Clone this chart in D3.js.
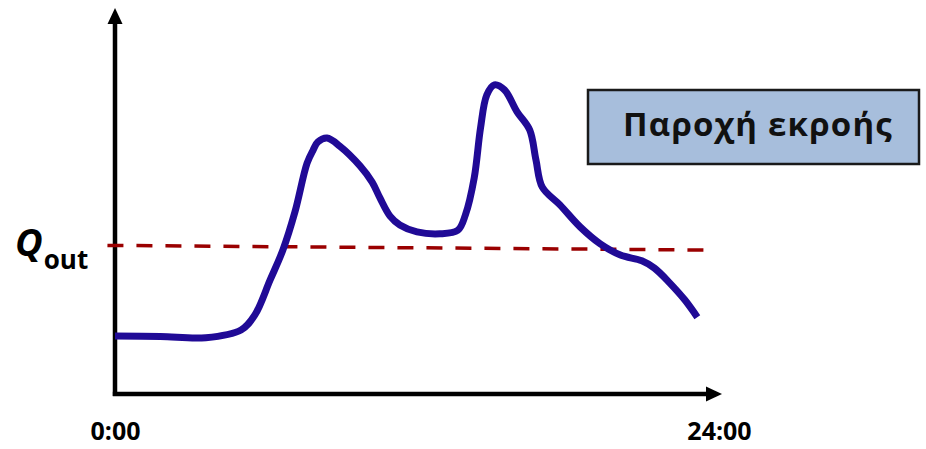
<!DOCTYPE html>
<html>
<head>
<meta charset="utf-8">
<script src="https://cdn.jsdelivr.net/npm/d3@7"></script>
<style>
  html, body { margin: 0; padding: 0; background: #fff; }
  svg { display: block; }
</style>
</head>
<body>
<svg id="chart" width="926" height="449"></svg>
<script>
// ---- data ----
const hours = [0, 1.8, 3.6, 5.0, 5.55, 6.15, 6.66, 7.14, 7.62, 7.86, 8.05, 8.41, 8.92, 9.72, 10.2, 10.51, 10.91, 11.3, 11.98, 12.89, 13.6, 13.9, 14.25, 14.5, 14.75, 15.05, 15.45, 15.95, 16.45, 16.7, 16.95, 17.65, 18.45, 19.25, 20.05, 20.9, 21.4, 22.0, 22.6, 23.1];
const inflow = [15.0, 14.9, 14.6, 16.6, 20.5, 29.5, 37.3, 47.2, 59.8, 63.2, 65.3, 66.3, 64.2, 59.1, 54.9, 50.8, 46.1, 43.8, 42.0, 41.5, 42.4, 46.4, 56.0, 68.9, 77.5, 80.1, 78.8, 73.1, 68.4, 60.6, 53.6, 49.0, 43.3, 38.9, 36.0, 34.5, 32.6, 28.8, 24.4, 19.9];
const qOutHours = [-0.3, 23.4];
const qOutLevel = [38.5, 37.3];
const tickValues = [0, 24];
const tickLabels = ["0:00", "24:00"];
const legendLabel = "Παροχή εκροής";

// ---- layout ----
const svg = d3.select("#chart");
const x0 = 115, y0 = 394;
const x = d3.scaleLinear().domain([0, 24]).range([x0, 720]);
const y = d3.scaleLinear().domain([0, 100]).range([y0, 8]);

// axes lines with arrows
svg.append("line").attr("x1", x0).attr("y1", y0 + 2).attr("x2", x0).attr("y2", 22)
  .attr("stroke", "#000").attr("stroke-width", 4.5);
svg.append("path").attr("d", `M${x0},8 L${x0 - 7.5},24 L${x0 + 7.5},24 Z`).attr("fill", "#000");
svg.append("line").attr("x1", x0 - 2.2).attr("y1", y0).attr("x2", 708).attr("y2", y0)
  .attr("stroke", "#000").attr("stroke-width", 4.5);
svg.append("path").attr("d", `M722,${y0} L706,${y0 - 7.5} L706,${y0 + 7.5} Z`).attr("fill", "#000");

// x tick labels via axis
const xAxis = d3.axisBottom(x).tickValues(tickValues).tickSize(0)
  .tickFormat((d, i) => tickLabels[i]);
const gx = svg.append("g").attr("transform", `translate(0,${y0})`).call(xAxis);
gx.select(".domain").remove();
gx.selectAll("text")
  .attr("y", 46).attr("dy", 0)
  .attr("font-family", "'Open Sans', sans-serif")
  .attr("font-weight", "bold").attr("font-size", 25).attr("fill", "#000");
gx.selectAll(".tick").filter((d) => d === 24).select("text").attr("x", -1);

// Qout dashed line
const qLine = d3.line().x(d => x(d[0])).y(d => y(d[1]));
svg.append("path")
  .datum(qOutHours.map((h, i) => [h, qOutLevel[i]]))
  .attr("d", qLine)
  .attr("fill", "none").attr("stroke", "#9a0000").attr("stroke-width", 3.5)
  .attr("stroke-dasharray", "16,13");

// inflow curve
const curve = d3.line().x(d => x(d[0])).y(d => y(d[1])).curve(d3.curveCatmullRom.alpha(0.5));
svg.append("path")
  .datum(hours.map((h, i) => [h, inflow[i]]))
  .attr("d", curve)
  .attr("fill", "none").attr("stroke", "#200a96").attr("stroke-width", 7)
  .attr("stroke-linejoin", "round");

// Qout label
const qt = svg.append("text").attr("x", 15).attr("y", 256)
  .attr("font-family", "'Open Sans', sans-serif").attr("font-weight", "bold").attr("fill", "#000");
qt.append("tspan").attr("font-size", 38).attr("font-style", "italic").text("Q");
qt.append("tspan").attr("font-size", 26).attr("dy", 13).attr("dx", 1).text("out");

// legend box
svg.append("rect").attr("x", 588).attr("y", 90).attr("width", 331).attr("height", 74)
  .attr("fill", "#a7bedc").attr("stroke", "#1a1a1a").attr("stroke-width", 2.5);
svg.append("text").attr("x", 758).attr("y", 136).attr("text-anchor", "middle")
  .attr("font-family", "'Open Sans', sans-serif").attr("font-weight", "bold")
  .attr("font-size", 33).attr("letter-spacing", 1.2).attr("fill", "#111").text(legendLabel);
</script>
</body>
</html>
